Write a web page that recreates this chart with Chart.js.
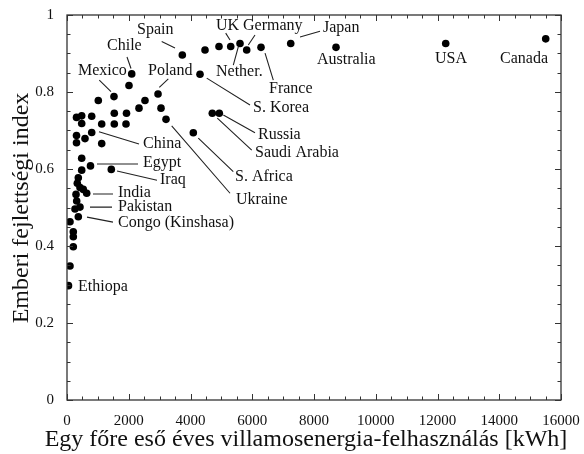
<!DOCTYPE html>
<html>
<head>
<meta charset="utf-8">
<script src="https://cdn.jsdelivr.net/npm/chart.js@4"></script>
<style>
html,body{margin:0;padding:0;background:#fff;}
#wrap{width:584px;height:454px;position:relative;}
</style>
</head>
<body>
<div id="wrap"><canvas id="c"></canvas></div>
<script>
// Per-capita electricity use (kWh) and HDI
const electricityKWh = [15505,12266,8713,7246,6284,5820,5604,5302,4923,4470,3735,4308,4933,4706,4091,3207,3045,2948,2526,2332,2096,2008,1522,1014,1532,1927,800,308,476,476,1124,1532,1911,800,308,583,308,1124,476,761,476,1435,366,334,421,528,638,292,314,421,259,366,97,204,204,204,97,49];
const hdiValues = [0.938,0.926,0.916,0.926,0.916,0.909,0.926,0.918,0.918,0.909,0.896,0.846,0.745,0.745,0.694,0.729,0.758,0.795,0.778,0.758,0.847,0.817,0.788,0.778,0.745,0.745,0.737,0.734,0.738,0.718,0.717,0.717,0.717,0.695,0.687,0.679,0.668,0.666,0.628,0.608,0.597,0.599,0.577,0.563,0.552,0.547,0.537,0.534,0.517,0.501,0.496,0.476,0.463,0.437,0.424,0.398,0.348,0.297];
const xTickLabels = ["0","2000","4000","6000","8000","10000","12000","14000","16000"];
const yTickLabels = ["0","0.2","0.4","0.6","0.8","1"];
const xTitle = "Egy főre eső éves villamosenergia-felhasználás [kWh]";
const yTitle = "Emberi fejlettségi index";
const countryNames = ["Spain","UK","Germany","Japan","Australia","USA","Canada","France","Nether.","Poland","S. Korea","Russia","Saudi Arabia","S. Africa","Ukraine","Chile","Mexico","China","Egypt","Iraq","India","Pakistan","Congo (Kinshasa)","Ethiopa"];

// Label placement (data units): text left/middle, optional leader line
const labelLayout = [
  {tx:2267,ty:0.961,line:[3067,0.931,3498,0.914]},
  {tx:4826,ty:0.971,line:[5140,0.953,5280,0.935]},
  {tx:5701,ty:0.971,line:[6089,0.948,5872,0.922]},
  {tx:8292,ty:0.966,line:[7547,0.943,8195,0.958]},
  {tx:8097,ty:0.883},
  {tx:11920,ty:0.886},
  {tx:14025,ty:0.886},
  {tx:6543,ty:0.808,line:[6414,0.901,6682,0.831]},
  {tx:4826,ty:0.852,line:[5386,0.870,5548,0.917]},
  {tx:2624,ty:0.855,line:[3281,0.834,2990,0.812]},
  {tx:6025,ty:0.758,line:[4525,0.836,5927,0.766]},
  {tx:6187,ty:0.688,line:[5063,0.740,6089,0.694]},
  {tx:6089,ty:0.642,line:[4868,0.732,5983,0.649]},
  {tx:5442,ty:0.579,line:[4253,0.680,5386,0.593]},
  {tx:5474,ty:0.519,line:[3391,0.712,5280,0.537]},
  {tx:1296,ty:0.919,line:[1943,0.891,2073,0.861]},
  {tx:356,ty:0.855,line:[1046,0.831,1425,0.801]},
  {tx:2462,ty:0.665,line:[1036,0.697,2332,0.665]},
  {tx:2462,ty:0.616,line:[972,0.613,2300,0.613]},
  {tx:3012,ty:0.571,line:[1620,0.595,2915,0.571]},
  {tx:1652,ty:0.538,line:[842,0.535,1490,0.535]},
  {tx:1652,ty:0.501,line:[745,0.501,1458,0.501]},
  {tx:1652,ty:0.460,line:[648,0.475,1490,0.462]},
  {tx:356,ty:0.294}
];

const FONT = "'Liberation Serif','DejaVu Serif',serif";
const INK = '#111';

const points = electricityKWh.map((x,i)=>({x:x,y:hdiValues[i]}));

const decor = {
  id:'decor',
  afterDatasetsDraw(chart){
    const ctx = chart.ctx, a = chart.chartArea;
    const xs = chart.scales.x, ys = chart.scales.y;
    ctx.save();
    // frame
    ctx.strokeStyle = '#333';
    ctx.lineWidth = 1.3;
    ctx.strokeRect(a.left, a.top, a.right-a.left, a.bottom-a.top);
    // inward ticks
    ctx.lineWidth = 1;
    ctx.beginPath();
    for(let v=0; v<=16000; v+=500){
      const px = Math.round(xs.getPixelForValue(v))+0.5;
      const len = (v%2000===0)?6:3.5;
      ctx.moveTo(px,a.bottom); ctx.lineTo(px,a.bottom-len);
      ctx.moveTo(px,a.top); ctx.lineTo(px,a.top+len);
    }
    for(let k=0; k<=20; k++){
      const v = k*0.05;
      const py = Math.round(ys.getPixelForValue(v))+0.5;
      const len = (k%4===0)?6:3.5;
      ctx.moveTo(a.left,py); ctx.lineTo(a.left+len,py);
      ctx.moveTo(a.right,py); ctx.lineTo(a.right-len,py);
    }
    ctx.stroke();
    // leader lines
    ctx.strokeStyle = '#222';
    ctx.lineWidth = 1.1;
    ctx.beginPath();
    labelLayout.forEach(l=>{
      if(!l.line) return;
      ctx.moveTo(xs.getPixelForValue(l.line[0]), ys.getPixelForValue(l.line[1]));
      ctx.lineTo(xs.getPixelForValue(l.line[2]), ys.getPixelForValue(l.line[3]));
    });
    ctx.stroke();
    // labels
    ctx.fillStyle = INK;
    ctx.font = "16px " + FONT;
    ctx.textAlign = 'left';
    ctx.textBaseline = 'middle';
    labelLayout.forEach((l,i)=>{
      ctx.fillText(countryNames[i], xs.getPixelForValue(l.tx), ys.getPixelForValue(l.ty));
    });
    // axis titles
    ctx.font = "24px " + FONT;
    ctx.textAlign = 'center';
    ctx.fillText(xTitle, 306, 440);
    ctx.translate(22, 208);
    ctx.rotate(-Math.PI/2);
    ctx.fillText(yTitle, 0, 0);
    ctx.restore();
  }
};

new Chart(document.getElementById('c'), {
  type:'scatter',
  data:{datasets:[{
    data:points,
    backgroundColor:'#000',
    borderColor:'#000',
    pointRadius:3.8,
    pointBorderWidth:0
  }]},
  options:{
    responsive:true,
    maintainAspectRatio:false,
    animation:false,
    layout:{padding:{left:0,top:15,right:23,bottom:0}},
    plugins:{legend:{display:false},tooltip:{enabled:false}},
    scales:{
      x:{
        type:'linear', min:0, max:16000,
        afterFit(s){ s.height = 54; },
        afterBuildTicks(s){ s.ticks = xTickLabels.map(t=>({value:Number(t)})); },
        grid:{display:false},
        border:{display:false},
        ticks:{padding:4, color:INK, font:{family:FONT,size:15}, maxRotation:0, autoSkip:false,
          callback:(v,i)=>xTickLabels[i]}
      },
      y:{
        type:'linear', min:0, max:1,
        afterFit(s){ s.width = 67; },
        afterBuildTicks(s){ s.ticks = yTickLabels.map(t=>({value:Number(t)})); },
        grid:{display:false},
        border:{display:false},
        ticks:{padding:5, color:INK, font:{family:FONT,size:15}, autoSkip:false,
          callback:(v,i)=>yTickLabels[i]}
      }
    }
  },
  plugins:[decor]
});
</script>
</body>
</html>
